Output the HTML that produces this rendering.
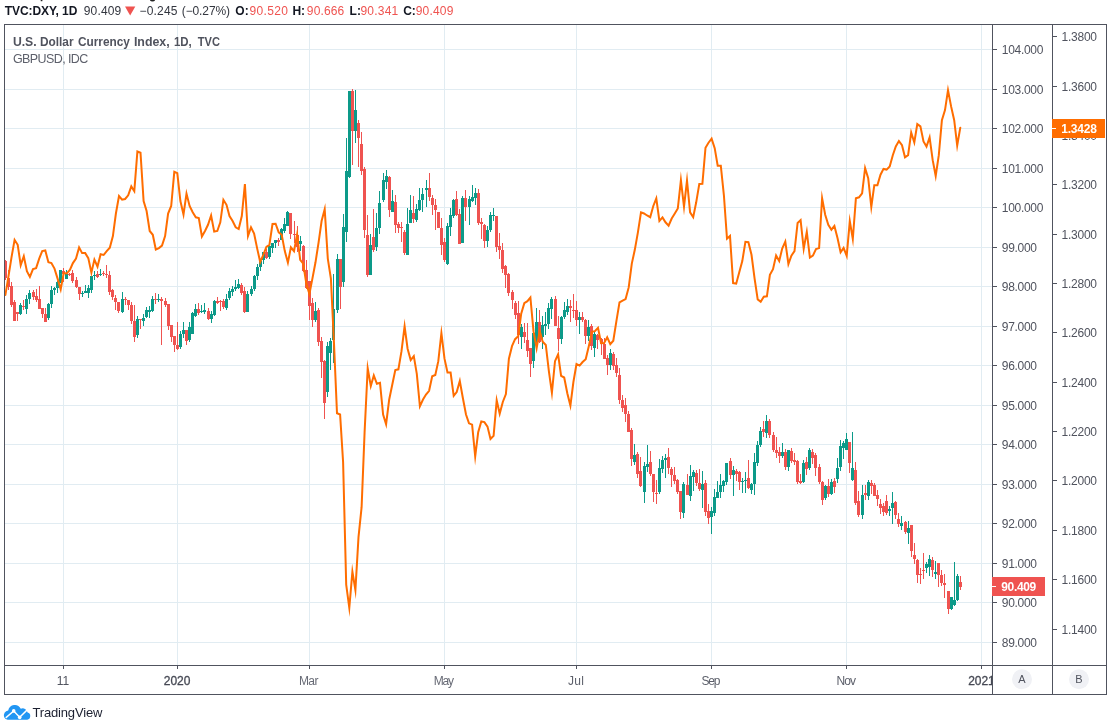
<!DOCTYPE html>
<html><head><meta charset="utf-8"><title>TVC:DXY</title><style>html,body{margin:0;padding:0;background:#fff;width:1109px;height:723px;overflow:hidden}svg{will-change:transform}</style></head><body><svg width="1109" height="723" viewBox="0 0 1109 723" style="display:block" font-family="Liberation Sans, sans-serif" font-size="12" shape-rendering="auto">
<rect x="0" y="0" width="1109" height="723" fill="#fff"/>
<defs><clipPath id="cp"><rect x="5" y="25" width="987" height="640"/></clipPath><clipPath id="cx"><rect x="5" y="666" width="987" height="28"/></clipPath></defs>
<g fill="#e1ecf2"><rect x="5" y="642" width="987" height="1"/><rect x="5" y="602" width="987" height="1"/><rect x="5" y="563" width="987" height="1"/><rect x="5" y="523" width="987" height="1"/><rect x="5" y="484" width="987" height="1"/><rect x="5" y="444" width="987" height="1"/><rect x="5" y="405" width="987" height="1"/><rect x="5" y="365" width="987" height="1"/><rect x="5" y="326" width="987" height="1"/><rect x="5" y="286" width="987" height="1"/><rect x="5" y="247" width="987" height="1"/><rect x="5" y="207" width="987" height="1"/><rect x="5" y="168" width="987" height="1"/><rect x="5" y="128" width="987" height="1"/><rect x="5" y="89" width="987" height="1"/><rect x="5" y="49" width="987" height="1"/><rect x="63" y="25" width="1" height="640"/><rect x="177" y="25" width="1" height="640"/><rect x="309" y="25" width="1" height="640"/><rect x="444" y="25" width="1" height="640"/><rect x="576" y="25" width="1" height="640"/><rect x="711" y="25" width="1" height="640"/><rect x="846" y="25" width="1" height="640"/><rect x="981" y="25" width="1" height="640"/></g>
<g clip-path="url(#cp)" shape-rendering="crispEdges"><g fill="#0c9a89"><rect x="19" y="305" width="3" height="9"/><rect x="20" y="303" width="1" height="12"/><rect x="25" y="299" width="3" height="10"/><rect x="26" y="295" width="1" height="19"/><rect x="28" y="293" width="3" height="6"/><rect x="29" y="290" width="1" height="14"/><rect x="47" y="304" width="3" height="14"/><rect x="48" y="303" width="1" height="17"/><rect x="50" y="290" width="3" height="14"/><rect x="51" y="286" width="1" height="22"/><rect x="53" y="288" width="3" height="2"/><rect x="54" y="287" width="1" height="8"/><rect x="56" y="282" width="3" height="6"/><rect x="57" y="281" width="1" height="12"/><rect x="59" y="270" width="3" height="13"/><rect x="60" y="270" width="1" height="13"/><rect x="65" y="274" width="3" height="5"/><rect x="66" y="270" width="1" height="9"/><rect x="81" y="293" width="3" height="1"/><rect x="82" y="291" width="1" height="6"/><rect x="84" y="291" width="3" height="2"/><rect x="85" y="285" width="1" height="8"/><rect x="87" y="288" width="3" height="5"/><rect x="88" y="285" width="1" height="13"/><rect x="90" y="276" width="3" height="14"/><rect x="91" y="276" width="1" height="17"/><rect x="93" y="275" width="3" height="1"/><rect x="94" y="271" width="1" height="9"/><rect x="99" y="274" width="3" height="1"/><rect x="100" y="269" width="1" height="7"/><rect x="121" y="299" width="3" height="13"/><rect x="122" y="292" width="1" height="21"/><rect x="136" y="319" width="3" height="16"/><rect x="137" y="316" width="1" height="22"/><rect x="142" y="318" width="3" height="3"/><rect x="143" y="314" width="1" height="12"/><rect x="145" y="310" width="3" height="7"/><rect x="146" y="307" width="1" height="11"/><rect x="148" y="310" width="3" height="2"/><rect x="149" y="306" width="1" height="12"/><rect x="151" y="299" width="3" height="12"/><rect x="152" y="296" width="1" height="16"/><rect x="157" y="299" width="3" height="1"/><rect x="158" y="294" width="1" height="8"/><rect x="179" y="334" width="3" height="13"/><rect x="180" y="331" width="1" height="18"/><rect x="182" y="330" width="3" height="4"/><rect x="183" y="322" width="1" height="16"/><rect x="188" y="327" width="3" height="13"/><rect x="189" y="322" width="1" height="20"/><rect x="191" y="313" width="3" height="21"/><rect x="192" y="312" width="1" height="22"/><rect x="194" y="309" width="3" height="7"/><rect x="195" y="304" width="1" height="13"/><rect x="200" y="311" width="3" height="1"/><rect x="201" y="305" width="1" height="8"/><rect x="203" y="310" width="3" height="2"/><rect x="204" y="303" width="1" height="11"/><rect x="210" y="314" width="3" height="5"/><rect x="211" y="311" width="1" height="12"/><rect x="213" y="301" width="3" height="14"/><rect x="214" y="300" width="1" height="16"/><rect x="225" y="299" width="3" height="9"/><rect x="226" y="294" width="1" height="16"/><rect x="228" y="291" width="3" height="7"/><rect x="229" y="288" width="1" height="12"/><rect x="231" y="289" width="3" height="3"/><rect x="232" y="286" width="1" height="10"/><rect x="234" y="287" width="3" height="2"/><rect x="235" y="280" width="1" height="11"/><rect x="237" y="284" width="3" height="4"/><rect x="238" y="279" width="1" height="10"/><rect x="246" y="294" width="3" height="18"/><rect x="247" y="291" width="1" height="21"/><rect x="250" y="289" width="3" height="5"/><rect x="251" y="286" width="1" height="10"/><rect x="253" y="276" width="3" height="13"/><rect x="254" y="275" width="1" height="16"/><rect x="256" y="267" width="3" height="9"/><rect x="257" y="264" width="1" height="16"/><rect x="259" y="261" width="3" height="6"/><rect x="260" y="259" width="1" height="12"/><rect x="262" y="252" width="3" height="8"/><rect x="263" y="252" width="1" height="12"/><rect x="268" y="246" width="3" height="11"/><rect x="269" y="246" width="1" height="13"/><rect x="271" y="243" width="3" height="5"/><rect x="272" y="243" width="1" height="10"/><rect x="274" y="240" width="3" height="3"/><rect x="275" y="240" width="1" height="8"/><rect x="280" y="229" width="3" height="11"/><rect x="281" y="228" width="1" height="12"/><rect x="283" y="224" width="3" height="7"/><rect x="284" y="218" width="1" height="15"/><rect x="286" y="212" width="3" height="14"/><rect x="287" y="211" width="1" height="15"/><rect x="299" y="241" width="3" height="3"/><rect x="300" y="236" width="1" height="15"/><rect x="314" y="311" width="3" height="9"/><rect x="315" y="302" width="1" height="20"/><rect x="326" y="346" width="3" height="46"/><rect x="327" y="342" width="1" height="55"/><rect x="329" y="341" width="3" height="12"/><rect x="330" y="338" width="1" height="32"/><rect x="332" y="309" width="3" height="31"/><rect x="333" y="274" width="1" height="89"/><rect x="336" y="259" width="3" height="51"/><rect x="337" y="254" width="1" height="59"/><rect x="342" y="227" width="3" height="55"/><rect x="343" y="214" width="1" height="73"/><rect x="345" y="171" width="3" height="61"/><rect x="346" y="138" width="1" height="104"/><rect x="348" y="91" width="3" height="86"/><rect x="349" y="91" width="1" height="87"/><rect x="354" y="110" width="3" height="21"/><rect x="355" y="90" width="1" height="53"/><rect x="369" y="245" width="3" height="30"/><rect x="370" y="234" width="1" height="41"/><rect x="375" y="228" width="3" height="19"/><rect x="376" y="213" width="1" height="38"/><rect x="378" y="203" width="3" height="25"/><rect x="379" y="191" width="1" height="43"/><rect x="382" y="180" width="3" height="20"/><rect x="383" y="173" width="1" height="29"/><rect x="385" y="176" width="3" height="6"/><rect x="386" y="170" width="1" height="19"/><rect x="391" y="201" width="3" height="11"/><rect x="392" y="190" width="1" height="22"/><rect x="406" y="224" width="3" height="31"/><rect x="407" y="208" width="1" height="47"/><rect x="409" y="210" width="3" height="13"/><rect x="410" y="195" width="1" height="28"/><rect x="415" y="209" width="3" height="11"/><rect x="416" y="204" width="1" height="18"/><rect x="418" y="200" width="3" height="10"/><rect x="419" y="188" width="1" height="23"/><rect x="421" y="194" width="3" height="6"/><rect x="422" y="188" width="1" height="24"/><rect x="425" y="188" width="3" height="2"/><rect x="426" y="180" width="1" height="27"/><rect x="446" y="226" width="3" height="38"/><rect x="447" y="223" width="1" height="42"/><rect x="449" y="215" width="3" height="12"/><rect x="450" y="208" width="1" height="28"/><rect x="452" y="200" width="3" height="16"/><rect x="453" y="199" width="1" height="19"/><rect x="461" y="198" width="3" height="45"/><rect x="462" y="196" width="1" height="47"/><rect x="468" y="199" width="3" height="8"/><rect x="469" y="196" width="1" height="29"/><rect x="471" y="197" width="3" height="4"/><rect x="472" y="185" width="1" height="17"/><rect x="474" y="193" width="3" height="5"/><rect x="475" y="188" width="1" height="17"/><rect x="486" y="230" width="3" height="11"/><rect x="487" y="226" width="1" height="21"/><rect x="489" y="215" width="3" height="15"/><rect x="490" y="212" width="1" height="20"/><rect x="492" y="215" width="3" height="1"/><rect x="493" y="208" width="1" height="13"/><rect x="520" y="327" width="3" height="10"/><rect x="521" y="324" width="1" height="25"/><rect x="532" y="333" width="3" height="28"/><rect x="533" y="332" width="1" height="36"/><rect x="535" y="322" width="3" height="23"/><rect x="536" y="308" width="1" height="42"/><rect x="541" y="325" width="3" height="12"/><rect x="542" y="316" width="1" height="33"/><rect x="544" y="324" width="3" height="2"/><rect x="545" y="312" width="1" height="23"/><rect x="547" y="308" width="3" height="16"/><rect x="548" y="303" width="1" height="26"/><rect x="550" y="299" width="3" height="10"/><rect x="551" y="297" width="1" height="22"/><rect x="560" y="317" width="3" height="22"/><rect x="561" y="316" width="1" height="28"/><rect x="563" y="310" width="3" height="7"/><rect x="564" y="302" width="1" height="17"/><rect x="566" y="306" width="3" height="6"/><rect x="567" y="299" width="1" height="16"/><rect x="578" y="317" width="3" height="3"/><rect x="579" y="312" width="1" height="22"/><rect x="587" y="327" width="3" height="9"/><rect x="588" y="320" width="1" height="21"/><rect x="593" y="334" width="3" height="14"/><rect x="594" y="332" width="1" height="25"/><rect x="609" y="353" width="3" height="12"/><rect x="610" y="349" width="1" height="21"/><rect x="633" y="455" width="3" height="7"/><rect x="634" y="444" width="1" height="21"/><rect x="643" y="466" width="3" height="26"/><rect x="644" y="462" width="1" height="41"/><rect x="646" y="464" width="3" height="3"/><rect x="647" y="445" width="1" height="27"/><rect x="658" y="468" width="3" height="24"/><rect x="659" y="459" width="1" height="35"/><rect x="661" y="460" width="3" height="9"/><rect x="662" y="456" width="1" height="17"/><rect x="664" y="458" width="3" height="2"/><rect x="665" y="454" width="1" height="24"/><rect x="682" y="484" width="3" height="29"/><rect x="683" y="482" width="1" height="36"/><rect x="689" y="476" width="3" height="20"/><rect x="690" y="465" width="1" height="36"/><rect x="692" y="472" width="3" height="5"/><rect x="693" y="470" width="1" height="21"/><rect x="701" y="484" width="3" height="6"/><rect x="702" y="471" width="1" height="37"/><rect x="710" y="511" width="3" height="6"/><rect x="711" y="507" width="1" height="27"/><rect x="713" y="497" width="3" height="16"/><rect x="714" y="489" width="1" height="27"/><rect x="716" y="492" width="3" height="6"/><rect x="717" y="481" width="1" height="17"/><rect x="719" y="485" width="3" height="7"/><rect x="720" y="474" width="1" height="24"/><rect x="722" y="481" width="3" height="5"/><rect x="723" y="480" width="1" height="12"/><rect x="725" y="463" width="3" height="19"/><rect x="726" y="463" width="1" height="22"/><rect x="732" y="470" width="3" height="5"/><rect x="733" y="466" width="1" height="30"/><rect x="741" y="481" width="3" height="1"/><rect x="742" y="478" width="1" height="15"/><rect x="744" y="480" width="3" height="1"/><rect x="745" y="472" width="1" height="21"/><rect x="750" y="484" width="3" height="6"/><rect x="751" y="483" width="1" height="11"/><rect x="753" y="462" width="3" height="22"/><rect x="754" y="453" width="1" height="42"/><rect x="756" y="445" width="3" height="18"/><rect x="757" y="441" width="1" height="25"/><rect x="759" y="431" width="3" height="14"/><rect x="760" y="427" width="1" height="20"/><rect x="765" y="421" width="3" height="12"/><rect x="766" y="415" width="1" height="23"/><rect x="781" y="452" width="3" height="4"/><rect x="782" y="443" width="1" height="15"/><rect x="787" y="450" width="3" height="17"/><rect x="788" y="450" width="1" height="21"/><rect x="802" y="463" width="3" height="19"/><rect x="803" y="460" width="1" height="23"/><rect x="808" y="450" width="3" height="18"/><rect x="809" y="448" width="1" height="22"/><rect x="824" y="486" width="3" height="12"/><rect x="825" y="485" width="1" height="15"/><rect x="830" y="482" width="3" height="12"/><rect x="831" y="479" width="1" height="16"/><rect x="836" y="468" width="3" height="11"/><rect x="837" y="458" width="1" height="25"/><rect x="839" y="446" width="3" height="21"/><rect x="840" y="440" width="1" height="31"/><rect x="842" y="443" width="3" height="5"/><rect x="843" y="441" width="1" height="18"/><rect x="845" y="439" width="3" height="11"/><rect x="846" y="433" width="1" height="17"/><rect x="851" y="468" width="3" height="12"/><rect x="852" y="432" width="1" height="49"/><rect x="861" y="495" width="3" height="20"/><rect x="862" y="485" width="1" height="34"/><rect x="867" y="482" width="3" height="14"/><rect x="868" y="480" width="1" height="20"/><rect x="888" y="509" width="3" height="2"/><rect x="889" y="506" width="1" height="10"/><rect x="891" y="503" width="3" height="5"/><rect x="892" y="492" width="1" height="32"/><rect x="900" y="523" width="3" height="3"/><rect x="901" y="516" width="1" height="14"/><rect x="907" y="528" width="3" height="5"/><rect x="908" y="521" width="1" height="23"/><rect x="925" y="564" width="3" height="4"/><rect x="926" y="562" width="1" height="11"/><rect x="928" y="559" width="3" height="8"/><rect x="929" y="555" width="1" height="21"/><rect x="934" y="572" width="3" height="2"/><rect x="935" y="561" width="1" height="18"/><rect x="950" y="597" width="3" height="12"/><rect x="951" y="597" width="1" height="13"/><rect x="953" y="600" width="3" height="5"/><rect x="954" y="562" width="1" height="44"/><rect x="956" y="576" width="3" height="24"/><rect x="957" y="574" width="1" height="27"/></g><g fill="#ef5350"><rect x="4" y="261" width="3" height="17"/><rect x="5" y="260" width="1" height="20"/><rect x="7" y="278" width="3" height="9"/><rect x="8" y="270" width="1" height="20"/><rect x="10" y="286" width="3" height="19"/><rect x="11" y="282" width="1" height="25"/><rect x="13" y="302" width="3" height="19"/><rect x="14" y="300" width="1" height="21"/><rect x="16" y="312" width="3" height="2"/><rect x="17" y="312" width="1" height="9"/><rect x="22" y="306" width="3" height="1"/><rect x="23" y="300" width="1" height="10"/><rect x="32" y="292" width="3" height="5"/><rect x="33" y="290" width="1" height="10"/><rect x="35" y="296" width="3" height="4"/><rect x="36" y="289" width="1" height="13"/><rect x="38" y="299" width="3" height="10"/><rect x="39" y="286" width="1" height="23"/><rect x="41" y="308" width="3" height="6"/><rect x="42" y="308" width="1" height="10"/><rect x="44" y="314" width="3" height="8"/><rect x="45" y="308" width="1" height="14"/><rect x="62" y="271" width="3" height="3"/><rect x="63" y="268" width="1" height="14"/><rect x="68" y="274" width="3" height="1"/><rect x="69" y="273" width="1" height="3"/><rect x="71" y="273" width="3" height="8"/><rect x="72" y="270" width="1" height="13"/><rect x="75" y="280" width="3" height="7"/><rect x="76" y="277" width="1" height="11"/><rect x="78" y="287" width="3" height="7"/><rect x="79" y="287" width="1" height="13"/><rect x="96" y="274" width="3" height="3"/><rect x="97" y="271" width="1" height="7"/><rect x="102" y="273" width="3" height="1"/><rect x="103" y="271" width="1" height="5"/><rect x="105" y="274" width="3" height="1"/><rect x="106" y="265" width="1" height="13"/><rect x="108" y="275" width="3" height="17"/><rect x="109" y="271" width="1" height="24"/><rect x="111" y="290" width="3" height="7"/><rect x="112" y="289" width="1" height="11"/><rect x="114" y="298" width="3" height="4"/><rect x="115" y="295" width="1" height="15"/><rect x="117" y="302" width="3" height="9"/><rect x="118" y="302" width="1" height="11"/><rect x="124" y="299" width="3" height="1"/><rect x="125" y="297" width="1" height="8"/><rect x="127" y="300" width="3" height="5"/><rect x="128" y="300" width="1" height="10"/><rect x="130" y="305" width="3" height="16"/><rect x="131" y="302" width="1" height="22"/><rect x="133" y="321" width="3" height="16"/><rect x="134" y="305" width="1" height="37"/><rect x="139" y="319" width="3" height="1"/><rect x="140" y="319" width="1" height="10"/><rect x="154" y="299" width="3" height="1"/><rect x="155" y="293" width="1" height="11"/><rect x="160" y="299" width="3" height="2"/><rect x="161" y="297" width="1" height="48"/><rect x="164" y="301" width="3" height="4"/><rect x="165" y="298" width="1" height="9"/><rect x="167" y="304" width="3" height="22"/><rect x="168" y="304" width="1" height="26"/><rect x="170" y="325" width="3" height="12"/><rect x="171" y="325" width="1" height="17"/><rect x="173" y="336" width="3" height="9"/><rect x="174" y="336" width="1" height="16"/><rect x="176" y="345" width="3" height="4"/><rect x="177" y="322" width="1" height="28"/><rect x="185" y="330" width="3" height="11"/><rect x="186" y="330" width="1" height="15"/><rect x="197" y="309" width="3" height="4"/><rect x="198" y="303" width="1" height="12"/><rect x="207" y="311" width="3" height="8"/><rect x="208" y="308" width="1" height="12"/><rect x="216" y="301" width="3" height="2"/><rect x="217" y="297" width="1" height="7"/><rect x="219" y="301" width="3" height="1"/><rect x="220" y="300" width="1" height="11"/><rect x="222" y="301" width="3" height="6"/><rect x="223" y="299" width="1" height="10"/><rect x="240" y="285" width="3" height="8"/><rect x="241" y="283" width="1" height="12"/><rect x="243" y="291" width="3" height="21"/><rect x="244" y="287" width="1" height="26"/><rect x="265" y="252" width="3" height="6"/><rect x="266" y="249" width="1" height="10"/><rect x="277" y="240" width="3" height="2"/><rect x="278" y="238" width="1" height="8"/><rect x="289" y="213" width="3" height="21"/><rect x="290" y="213" width="1" height="26"/><rect x="293" y="234" width="3" height="1"/><rect x="294" y="221" width="1" height="22"/><rect x="296" y="235" width="3" height="12"/><rect x="297" y="226" width="1" height="26"/><rect x="302" y="246" width="3" height="25"/><rect x="303" y="245" width="1" height="27"/><rect x="305" y="270" width="3" height="18"/><rect x="306" y="260" width="1" height="29"/><rect x="308" y="281" width="3" height="25"/><rect x="309" y="281" width="1" height="39"/><rect x="311" y="303" width="3" height="17"/><rect x="312" y="298" width="1" height="29"/><rect x="317" y="310" width="3" height="32"/><rect x="318" y="308" width="1" height="38"/><rect x="320" y="341" width="3" height="21"/><rect x="321" y="337" width="1" height="41"/><rect x="323" y="361" width="3" height="42"/><rect x="324" y="360" width="1" height="59"/><rect x="339" y="259" width="3" height="28"/><rect x="340" y="259" width="1" height="50"/><rect x="351" y="91" width="3" height="40"/><rect x="352" y="89" width="1" height="76"/><rect x="357" y="123" width="3" height="15"/><rect x="358" y="120" width="1" height="47"/><rect x="360" y="144" width="3" height="27"/><rect x="361" y="132" width="1" height="43"/><rect x="363" y="169" width="3" height="61"/><rect x="364" y="167" width="1" height="71"/><rect x="366" y="235" width="3" height="40"/><rect x="367" y="215" width="1" height="62"/><rect x="372" y="237" width="3" height="13"/><rect x="373" y="209" width="1" height="43"/><rect x="388" y="177" width="3" height="33"/><rect x="389" y="176" width="1" height="41"/><rect x="394" y="202" width="3" height="23"/><rect x="395" y="195" width="1" height="38"/><rect x="397" y="224" width="3" height="4"/><rect x="398" y="222" width="1" height="11"/><rect x="400" y="227" width="3" height="1"/><rect x="401" y="222" width="1" height="20"/><rect x="403" y="232" width="3" height="21"/><rect x="404" y="230" width="1" height="25"/><rect x="412" y="213" width="3" height="6"/><rect x="413" y="196" width="1" height="27"/><rect x="428" y="188" width="3" height="9"/><rect x="429" y="173" width="1" height="28"/><rect x="431" y="198" width="3" height="7"/><rect x="432" y="195" width="1" height="20"/><rect x="434" y="205" width="3" height="5"/><rect x="435" y="199" width="1" height="31"/><rect x="437" y="212" width="3" height="16"/><rect x="438" y="212" width="1" height="16"/><rect x="440" y="228" width="3" height="17"/><rect x="441" y="218" width="1" height="37"/><rect x="443" y="242" width="3" height="18"/><rect x="444" y="238" width="1" height="24"/><rect x="455" y="199" width="3" height="16"/><rect x="456" y="191" width="1" height="25"/><rect x="458" y="214" width="3" height="30"/><rect x="459" y="209" width="1" height="35"/><rect x="464" y="198" width="3" height="9"/><rect x="465" y="190" width="1" height="31"/><rect x="477" y="193" width="3" height="30"/><rect x="478" y="189" width="1" height="36"/><rect x="480" y="222" width="3" height="2"/><rect x="481" y="218" width="1" height="21"/><rect x="483" y="225" width="3" height="16"/><rect x="484" y="224" width="1" height="24"/><rect x="495" y="216" width="3" height="31"/><rect x="496" y="216" width="1" height="36"/><rect x="498" y="246" width="3" height="4"/><rect x="499" y="233" width="1" height="26"/><rect x="501" y="250" width="3" height="19"/><rect x="502" y="243" width="1" height="30"/><rect x="504" y="266" width="3" height="9"/><rect x="505" y="265" width="1" height="23"/><rect x="507" y="274" width="3" height="19"/><rect x="508" y="273" width="1" height="23"/><rect x="511" y="292" width="3" height="8"/><rect x="512" y="290" width="1" height="19"/><rect x="514" y="303" width="3" height="12"/><rect x="515" y="301" width="1" height="18"/><rect x="517" y="313" width="3" height="22"/><rect x="518" y="301" width="1" height="43"/><rect x="523" y="332" width="3" height="5"/><rect x="524" y="323" width="1" height="20"/><rect x="526" y="340" width="3" height="11"/><rect x="527" y="323" width="1" height="34"/><rect x="529" y="348" width="3" height="16"/><rect x="530" y="348" width="1" height="29"/><rect x="538" y="322" width="3" height="20"/><rect x="539" y="310" width="1" height="33"/><rect x="554" y="299" width="3" height="27"/><rect x="555" y="296" width="1" height="30"/><rect x="557" y="328" width="3" height="11"/><rect x="558" y="316" width="1" height="35"/><rect x="569" y="306" width="3" height="2"/><rect x="570" y="300" width="1" height="22"/><rect x="572" y="310" width="3" height="1"/><rect x="573" y="294" width="1" height="24"/><rect x="575" y="310" width="3" height="10"/><rect x="576" y="301" width="1" height="25"/><rect x="581" y="317" width="3" height="3"/><rect x="582" y="312" width="1" height="10"/><rect x="584" y="320" width="3" height="16"/><rect x="585" y="319" width="1" height="25"/><rect x="590" y="326" width="3" height="20"/><rect x="591" y="324" width="1" height="26"/><rect x="596" y="335" width="3" height="5"/><rect x="597" y="334" width="1" height="15"/><rect x="600" y="339" width="3" height="5"/><rect x="601" y="338" width="1" height="17"/><rect x="603" y="344" width="3" height="15"/><rect x="604" y="338" width="1" height="21"/><rect x="606" y="358" width="3" height="7"/><rect x="607" y="355" width="1" height="20"/><rect x="612" y="354" width="3" height="12"/><rect x="613" y="352" width="1" height="18"/><rect x="615" y="365" width="3" height="8"/><rect x="616" y="358" width="1" height="19"/><rect x="618" y="375" width="3" height="25"/><rect x="619" y="368" width="1" height="36"/><rect x="621" y="400" width="3" height="8"/><rect x="622" y="395" width="1" height="17"/><rect x="624" y="405" width="3" height="9"/><rect x="625" y="398" width="1" height="24"/><rect x="627" y="414" width="3" height="18"/><rect x="628" y="411" width="1" height="21"/><rect x="630" y="430" width="3" height="29"/><rect x="631" y="428" width="1" height="38"/><rect x="636" y="454" width="3" height="20"/><rect x="637" y="452" width="1" height="26"/><rect x="639" y="471" width="3" height="15"/><rect x="640" y="457" width="1" height="30"/><rect x="649" y="462" width="3" height="12"/><rect x="650" y="451" width="1" height="25"/><rect x="652" y="474" width="3" height="18"/><rect x="653" y="474" width="1" height="28"/><rect x="655" y="493" width="3" height="1"/><rect x="656" y="480" width="1" height="24"/><rect x="667" y="457" width="3" height="11"/><rect x="668" y="448" width="1" height="26"/><rect x="670" y="469" width="3" height="6"/><rect x="671" y="467" width="1" height="20"/><rect x="673" y="475" width="3" height="6"/><rect x="674" y="467" width="1" height="17"/><rect x="676" y="480" width="3" height="12"/><rect x="677" y="479" width="1" height="15"/><rect x="679" y="491" width="3" height="21"/><rect x="680" y="491" width="1" height="28"/><rect x="686" y="485" width="3" height="10"/><rect x="687" y="474" width="1" height="21"/><rect x="695" y="473" width="3" height="10"/><rect x="696" y="470" width="1" height="16"/><rect x="698" y="483" width="3" height="6"/><rect x="699" y="469" width="1" height="22"/><rect x="704" y="483" width="3" height="29"/><rect x="705" y="480" width="1" height="36"/><rect x="707" y="511" width="3" height="7"/><rect x="708" y="504" width="1" height="20"/><rect x="729" y="461" width="3" height="14"/><rect x="730" y="458" width="1" height="21"/><rect x="735" y="471" width="3" height="3"/><rect x="736" y="469" width="1" height="12"/><rect x="738" y="472" width="3" height="10"/><rect x="739" y="471" width="1" height="19"/><rect x="747" y="478" width="3" height="10"/><rect x="748" y="460" width="1" height="29"/><rect x="762" y="429" width="3" height="3"/><rect x="763" y="421" width="1" height="16"/><rect x="768" y="421" width="3" height="14"/><rect x="769" y="419" width="1" height="19"/><rect x="772" y="435" width="3" height="15"/><rect x="773" y="432" width="1" height="20"/><rect x="775" y="450" width="3" height="3"/><rect x="776" y="437" width="1" height="21"/><rect x="778" y="452" width="3" height="4"/><rect x="779" y="447" width="1" height="16"/><rect x="784" y="452" width="3" height="15"/><rect x="785" y="449" width="1" height="21"/><rect x="790" y="451" width="3" height="10"/><rect x="791" y="448" width="1" height="15"/><rect x="793" y="460" width="3" height="2"/><rect x="794" y="453" width="1" height="12"/><rect x="796" y="461" width="3" height="21"/><rect x="797" y="460" width="1" height="24"/><rect x="799" y="481" width="3" height="2"/><rect x="800" y="474" width="1" height="10"/><rect x="805" y="462" width="3" height="7"/><rect x="806" y="457" width="1" height="18"/><rect x="811" y="452" width="3" height="6"/><rect x="812" y="449" width="1" height="15"/><rect x="814" y="455" width="3" height="13"/><rect x="815" y="453" width="1" height="23"/><rect x="818" y="467" width="3" height="15"/><rect x="819" y="464" width="1" height="20"/><rect x="821" y="482" width="3" height="18"/><rect x="822" y="481" width="1" height="24"/><rect x="827" y="486" width="3" height="8"/><rect x="828" y="479" width="1" height="18"/><rect x="833" y="481" width="3" height="6"/><rect x="834" y="478" width="1" height="15"/><rect x="848" y="442" width="3" height="21"/><rect x="849" y="442" width="1" height="31"/><rect x="854" y="470" width="3" height="33"/><rect x="855" y="462" width="1" height="43"/><rect x="857" y="501" width="3" height="14"/><rect x="858" y="491" width="1" height="26"/><rect x="864" y="493" width="3" height="2"/><rect x="865" y="485" width="1" height="15"/><rect x="870" y="483" width="3" height="3"/><rect x="871" y="480" width="1" height="14"/><rect x="873" y="485" width="3" height="11"/><rect x="874" y="483" width="1" height="13"/><rect x="876" y="495" width="3" height="4"/><rect x="877" y="490" width="1" height="16"/><rect x="879" y="504" width="3" height="4"/><rect x="880" y="499" width="1" height="15"/><rect x="882" y="506" width="3" height="6"/><rect x="883" y="503" width="1" height="13"/><rect x="885" y="501" width="3" height="12"/><rect x="886" y="495" width="1" height="20"/><rect x="894" y="502" width="3" height="13"/><rect x="895" y="501" width="1" height="18"/><rect x="897" y="519" width="3" height="5"/><rect x="898" y="513" width="1" height="14"/><rect x="904" y="522" width="3" height="10"/><rect x="905" y="521" width="1" height="13"/><rect x="910" y="525" width="3" height="26"/><rect x="911" y="525" width="1" height="32"/><rect x="913" y="555" width="3" height="4"/><rect x="914" y="543" width="1" height="21"/><rect x="916" y="560" width="3" height="15"/><rect x="917" y="559" width="1" height="24"/><rect x="919" y="574" width="3" height="1"/><rect x="920" y="568" width="1" height="16"/><rect x="922" y="570" width="3" height="1"/><rect x="923" y="553" width="1" height="26"/><rect x="931" y="560" width="3" height="10"/><rect x="932" y="557" width="1" height="20"/><rect x="937" y="563" width="3" height="12"/><rect x="938" y="563" width="1" height="24"/><rect x="940" y="575" width="3" height="8"/><rect x="941" y="570" width="1" height="16"/><rect x="943" y="583" width="3" height="2"/><rect x="944" y="574" width="1" height="24"/><rect x="947" y="591" width="3" height="18"/><rect x="948" y="591" width="1" height="23"/><rect x="959" y="582" width="3" height="5"/><rect x="960" y="576" width="1" height="14"/></g></g>
<polyline clip-path="url(#cp)" points="5.4,294.9 8.5,276.1 11.5,257.3 14.6,239.9 17.7,244.8 20.7,265.2 23.8,256.2 26.9,271.1 29.9,276.9 33.0,269.1 36.1,268.1 39.2,258.6 42.2,251.1 45.3,250.5 48.4,262.3 51.4,263.1 54.5,268.6 57.6,278.6 60.7,289.4 63.7,273.1 66.8,273.5 69.9,269.9 72.9,263.1 76.0,258.6 79.1,247.4 82.1,253.1 85.2,253.1 88.3,258.1 91.4,272.6 94.4,259.6 97.5,266.6 100.6,254.3 103.6,255.0 106.7,251.1 109.8,247.8 112.9,236.1 115.9,213.5 119.0,196.0 122.1,199.7 125.1,199.0 128.2,195.3 131.3,186.4 134.3,191.2 137.4,151.5 140.5,152.7 143.6,201.0 146.6,211.0 149.7,231.0 152.8,234.8 155.8,249.5 158.9,248.1 162.0,245.6 165.1,236.1 168.1,213.5 171.2,206.0 174.3,171.8 177.3,173.2 180.4,201.0 183.5,214.5 186.5,193.6 189.6,206.0 192.7,212.3 195.8,217.3 198.8,218.0 201.9,236.5 205.0,231.0 208.0,224.8 211.1,215.5 214.2,231.6 217.3,231.0 220.3,222.3 223.4,199.8 226.5,204.8 229.5,216.0 232.6,221.0 235.7,227.3 238.7,229.0 241.8,216.0 244.9,184.0 248.0,236.0 251.0,227.3 254.1,233.5 257.2,248.6 260.2,262.0 263.3,254.8 266.4,246.8 269.4,244.8 272.5,224.0 275.6,223.7 278.7,232.3 281.7,234.8 284.8,251.1 287.9,262.6 290.9,247.3 294.0,251.1 297.1,234.4 300.2,259.8 303.2,263.6 306.3,283.6 309.4,294.1 312.4,278.6 315.5,262.3 318.6,242.3 321.6,221.0 324.7,209.2 327.8,258.6 330.9,278.6 333.9,341.2 337.0,413.3 340.1,414.5 343.1,462.1 346.2,584.6 349.3,607.9 352.4,571.6 355.4,590.1 358.5,537.2 361.6,507.2 364.6,432.1 367.7,368.3 370.8,386.0 373.8,375.4 376.9,383.8 380.0,382.8 383.1,414.5 386.1,424.2 389.2,399.5 392.3,384.5 395.3,370.0 398.4,369.3 401.5,351.2 404.6,326.3 407.6,348.7 410.7,360.1 413.8,356.2 416.8,373.8 419.9,406.3 423.0,399.5 426.0,394.5 429.1,390.8 432.2,376.3 435.3,375.0 438.3,361.2 441.4,333.1 444.5,358.7 447.5,372.5 450.6,372.5 453.7,395.8 456.7,392.0 459.8,381.0 462.9,398.3 466.0,414.5 469.0,423.3 472.1,424.6 475.2,456.4 478.2,432.1 481.3,421.5 484.4,422.1 487.5,426.6 490.5,439.0 493.6,435.8 496.7,400.3 499.7,413.7 502.8,402.0 505.9,394.0 508.9,358.7 512.0,346.2 515.1,339.2 518.2,336.2 521.2,313.7 524.3,303.2 527.4,301.2 530.4,297.5 533.5,331.2 536.6,348.4 539.7,330.9 542.7,341.7 545.8,345.0 548.9,371.3 551.9,392.8 555.0,361.2 558.1,354.3 561.1,375.8 564.2,377.5 567.3,393.3 570.4,405.6 573.4,382.0 576.5,364.1 579.6,365.6 582.6,362.0 585.7,359.2 588.8,346.2 591.9,331.8 594.9,331.2 598.0,327.8 601.1,343.2 604.1,343.1 607.2,337.3 610.3,344.1 613.3,340.7 616.4,321.2 619.5,302.4 622.6,300.6 625.6,299.1 628.7,287.4 631.8,263.6 634.8,249.8 637.9,232.3 641.0,212.3 644.0,213.5 647.1,215.5 650.2,217.2 653.3,206.0 656.3,198.5 659.4,221.0 662.5,217.4 665.5,222.3 668.6,225.6 671.7,218.5 674.8,213.5 677.8,208.5 680.9,180.2 684.0,206.7 687.0,180.4 690.1,212.3 693.2,217.2 696.2,202.3 699.3,183.9 702.4,183.8 705.5,147.7 708.5,142.7 711.6,138.7 714.7,148.2 717.7,165.7 720.8,165.7 723.9,195.3 727.0,238.7 730.0,235.9 733.1,283.1 736.2,283.7 739.2,272.4 742.3,261.1 745.4,241.8 748.4,242.2 751.5,254.8 754.6,278.6 757.7,299.4 760.7,301.7 763.8,296.7 766.9,296.3 769.9,274.9 773.0,269.1 776.1,255.5 779.2,261.0 782.2,248.6 785.3,241.6 788.4,264.0 791.4,255.6 794.5,251.1 797.6,223.0 800.6,220.1 803.7,248.8 806.8,231.9 809.9,257.6 812.9,255.6 816.0,249.1 819.1,248.1 822.1,198.1 825.2,214.8 828.3,224.8 831.4,229.7 834.4,225.9 837.5,238.1 840.6,252.3 843.6,247.9 846.7,255.9 849.8,221.2 852.8,239.0 855.9,198.3 859.0,197.3 862.1,193.3 865.1,168.1 868.2,178.2 871.3,207.0 874.3,185.2 877.4,185.2 880.5,174.7 883.5,168.9 886.6,169.6 889.7,166.5 892.8,155.2 895.8,146.4 898.9,141.1 902.0,145.2 905.0,157.3 908.1,155.2 911.2,132.5 914.3,142.5 917.3,124.1 920.4,126.4 923.5,141.4 926.5,146.5 929.6,137.4 932.7,160.2 935.7,176.0 938.8,155.2 941.9,120.2 945.0,110.1 948.0,90.1 951.1,106.4 954.2,120.2 957.2,145.5 960.3,127.7" fill="none" stroke="#ff6d00" stroke-width="2" stroke-linejoin="miter" stroke-miterlimit="12" stroke-linecap="round"/>
<g fill="#50535e"><rect x="4" y="24" width="1103" height="1"/><rect x="4" y="24" width="1" height="671"/><rect x="1106" y="24" width="1" height="671"/><rect x="4" y="694" width="1103" height="1"/><rect x="4" y="665" width="1103" height="1"/><rect x="992" y="24" width="1" height="671"/><rect x="1052" y="24" width="1" height="671"/><rect x="993" y="642" width="4" height="1"/><rect x="993" y="602" width="4" height="1"/><rect x="993" y="563" width="4" height="1"/><rect x="993" y="523" width="4" height="1"/><rect x="993" y="484" width="4" height="1"/><rect x="993" y="444" width="4" height="1"/><rect x="993" y="405" width="4" height="1"/><rect x="993" y="365" width="4" height="1"/><rect x="993" y="326" width="4" height="1"/><rect x="993" y="286" width="4" height="1"/><rect x="993" y="247" width="4" height="1"/><rect x="993" y="207" width="4" height="1"/><rect x="993" y="168" width="4" height="1"/><rect x="993" y="128" width="4" height="1"/><rect x="993" y="89" width="4" height="1"/><rect x="993" y="49" width="4" height="1"/><rect x="1053" y="36" width="4" height="1"/><rect x="1053" y="86" width="4" height="1"/><rect x="1053" y="135" width="4" height="1"/><rect x="1053" y="184" width="4" height="1"/><rect x="1053" y="234" width="4" height="1"/><rect x="1053" y="283" width="4" height="1"/><rect x="1053" y="332" width="4" height="1"/><rect x="1053" y="382" width="4" height="1"/><rect x="1053" y="431" width="4" height="1"/><rect x="1053" y="480" width="4" height="1"/><rect x="1053" y="530" width="4" height="1"/><rect x="1053" y="579" width="4" height="1"/><rect x="1053" y="629" width="4" height="1"/><rect x="63" y="666" width="1" height="3"/><rect x="177" y="666" width="1" height="3"/><rect x="309" y="666" width="1" height="3"/><rect x="444" y="666" width="1" height="3"/><rect x="576" y="666" width="1" height="3"/><rect x="711" y="666" width="1" height="3"/><rect x="846" y="666" width="1" height="3"/><rect x="981" y="666" width="1" height="3"/></g>
<g fill="#50535e"><text x="1001.8" y="646.8" textLength="35.2">89.000</text><text x="1001.8" y="606.8" textLength="35.2">90.000</text><text x="1001.8" y="567.8" textLength="35.2">91.000</text><text x="1001.8" y="527.8" textLength="35.2">92.000</text><text x="1001.8" y="488.8" textLength="35.2">93.000</text><text x="1001.8" y="448.8" textLength="35.2">94.000</text><text x="1001.8" y="409.8" textLength="35.2">95.000</text><text x="1001.8" y="369.8" textLength="35.2">96.000</text><text x="1001.8" y="330.8" textLength="35.2">97.000</text><text x="1001.8" y="290.8" textLength="35.2">98.000</text><text x="1001.8" y="251.8" textLength="35.2">99.000</text><text x="1001.8" y="211.8" textLength="41.6">100.000</text><text x="1001.8" y="172.8" textLength="41.6">101.000</text><text x="1001.8" y="132.8" textLength="41.6">102.000</text><text x="1001.8" y="93.8" textLength="41.6">103.000</text><text x="1001.8" y="53.8" textLength="41.6">104.000</text><text x="1061.5" y="40.8" textLength="35.5">1.3800</text><text x="1061.5" y="90.8" textLength="35.5">1.3600</text><text x="1061.5" y="139.8" textLength="35.5">1.3400</text><text x="1061.5" y="188.8" textLength="35.5">1.3200</text><text x="1061.5" y="238.8" textLength="35.5">1.3000</text><text x="1061.5" y="287.8" textLength="35.5">1.2800</text><text x="1061.5" y="336.8" textLength="35.5">1.2600</text><text x="1061.5" y="386.8" textLength="35.5">1.2400</text><text x="1061.5" y="435.8" textLength="35.5">1.2200</text><text x="1061.5" y="484.8" textLength="35.5">1.2000</text><text x="1061.5" y="534.8" textLength="35.5">1.1800</text><text x="1061.5" y="583.8" textLength="35.5">1.1600</text><text x="1061.5" y="633.8" textLength="35.5">1.1400</text></g>
<rect x="992" y="577" width="53" height="19" fill="#ef5350"/><rect x="992" y="586" width="4" height="1" fill="#fff"/>
<text x="1001.3" y="591" textLength="34.9" fill="#fff" font-weight="bold">90.409</text>
<rect x="1052" y="119" width="53" height="19" fill="#ff6d00"/><rect x="1052" y="128" width="4" height="1" fill="#fff"/>
<text x="1061.2" y="132.7" textLength="35.8" fill="#fff" font-weight="bold">1.3428</text>
<g clip-path="url(#cx)"><text x="62.9" y="684.6" text-anchor="middle" fill="#50535e">11</text><text x="177.1" y="684.6" text-anchor="middle" fill="#464954" stroke="#464954" stroke-width="0.3" textLength="26.6">2020</text><text x="308.7" y="684.6" text-anchor="middle" fill="#676a75" textLength="19.5">Mar</text><text x="443.8" y="684.6" text-anchor="middle" fill="#676a75" textLength="20.3">May</text><text x="576" y="684.6" text-anchor="middle" fill="#5d606b" textLength="15.8">Jul</text><text x="711" y="684.6" text-anchor="middle" fill="#5d606b" textLength="18.8">Sep</text><text x="846.3" y="684.6" text-anchor="middle" fill="#5d606b" textLength="19.5">Nov</text><text x="981.5" y="684.6" text-anchor="middle" fill="#464954" stroke="#464954" stroke-width="0.3" textLength="26.6">2021</text></g>
<circle cx="1022" cy="679.3" r="10" fill="#f0f1f5"/><text x="1022" y="683.2" text-anchor="middle" font-size="11" fill="#50535e">A</text>
<circle cx="1079" cy="679.3" r="10" fill="#f0f1f5"/><text x="1079" y="683.2" text-anchor="middle" font-size="11" fill="#50535e">B</text>
<text x="12.9" y="46.3" font-size="13" font-weight="bold" fill="#50535e" textLength="23.8" lengthAdjust="spacingAndGlyphs">U.S.</text>
<text x="39.9" y="46.3" font-size="13" font-weight="bold" fill="#50535e" textLength="33.6" lengthAdjust="spacingAndGlyphs">Dollar</text>
<text x="77.9" y="46.3" font-size="13" font-weight="bold" fill="#50535e" textLength="52" lengthAdjust="spacingAndGlyphs">Currency</text>
<text x="133.9" y="46.3" font-size="13" font-weight="bold" fill="#50535e" textLength="35.8" lengthAdjust="spacingAndGlyphs">Index,</text>
<text x="174.0" y="46.3" font-size="13" font-weight="bold" fill="#50535e" textLength="17.8" lengthAdjust="spacingAndGlyphs">1D,</text>
<text x="197.8" y="46.3" font-size="13" font-weight="bold" fill="#50535e" textLength="22.2" lengthAdjust="spacingAndGlyphs">TVC</text>
<text x="13" y="63.1" font-size="12.5" fill="#5d606b" textLength="75.2">GBPUSD, IDC</text>
<text x="4.8" y="14.8" textLength="72.5" fill="#131722" font-weight="bold">TVC:DXY, 1D</text><text x="83.8" y="14.8" textLength="37.4" fill="#33363f">90.409</text><text x="139.6" y="14.8" textLength="37.9" fill="#33363f">−0.245</text><text x="181.8" y="14.8" textLength="48.2" fill="#33363f">(−0.27%)</text><text x="235.3" y="14.8" fill="#131722" font-weight="bold">O:</text><text x="249.5" y="14.8" textLength="38.5" fill="#ef5350">90.520</text><text x="292.4" y="14.8" fill="#131722" font-weight="bold">H:</text><text x="306.8" y="14.8" textLength="37.5" fill="#ef5350">90.666</text><text x="349.6" y="14.8" fill="#131722" font-weight="bold">L:</text><text x="360.5" y="14.8" textLength="37.7" fill="#ef5350">90.341</text><text x="403.2" y="14.8" fill="#131722" font-weight="bold">C:</text><text x="415.7" y="14.8" textLength="37.7" fill="#ef5350">90.409</text>
<path d="M125 6.5 L135.3 6.5 L130.15 15.6 Z" fill="#ef5350"/>
<rect x="40.7" y="0" width="1.7" height="1.2" fill="#222"/><path d="M150.2 0 h4.6 v0.3 q-0.3 1.2 -2.3 1.2 q-2 0 -2.3 -1.2 z" fill="#222"/>
<g id="logo" transform="translate(0.2 704.8) scale(1 1.07) translate(0 -704.8)"><path d="M4 716.5 a4.6 4.6 0 0 1 4 -6.3 a6.8 6.8 0 0 1 12.6 -1.6 a4.9 4.9 0 0 1 6.8 3.4 a3.4 3.4 0 0 1 -0.4 6.7 h-19.5 a4 4 0 0 1 -3.5 -2.2 z" fill="#2196f3"/><polyline points="5.5,717 13.5,710.5 19.5,716.5 27,709.5" fill="none" stroke="#fff" stroke-width="1.4"/><circle cx="13.5" cy="710.5" r="1.8" fill="#fff"/><circle cx="19.5" cy="716.5" r="1.8" fill="#fff"/></g>
<text x="32.4" y="716.7" font-size="13" fill="#1c2030" textLength="70">TradingView</text>
</svg></body></html>
